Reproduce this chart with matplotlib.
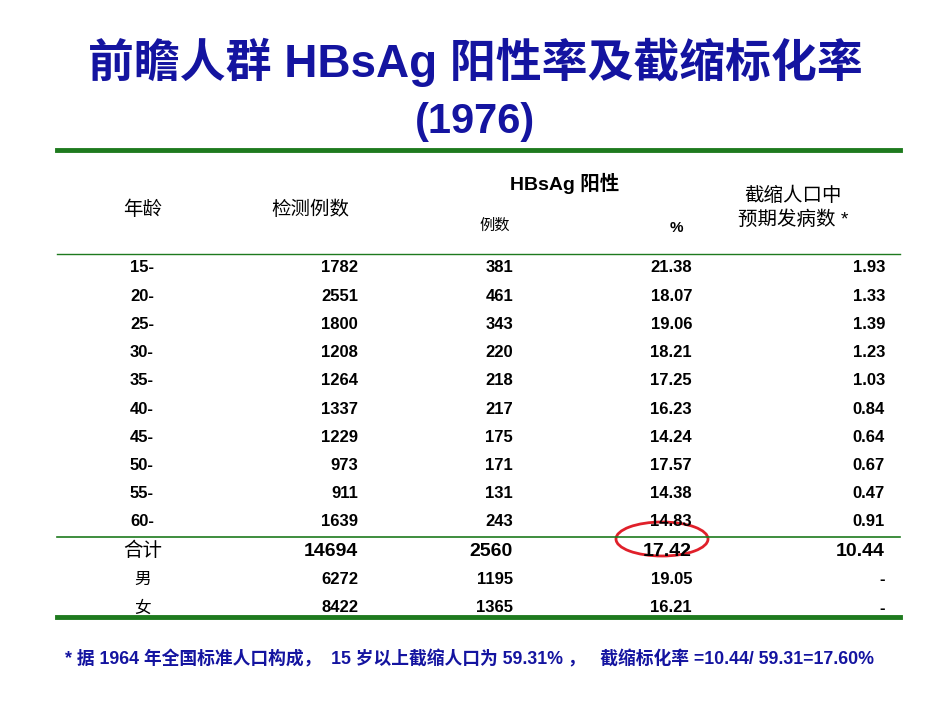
import matplotlib
matplotlib.use('Agg')
import matplotlib.pyplot as plt
from matplotlib.patches import Ellipse

plt.rcParams['font.family'] = ['Liberation Sans', 'Noto Sans CJK SC', 'DejaVu Sans']

ages = ['15-', '20-', '25-', '30-', '35-', '40-', '45-', '50-', '55-', '60-']
tested = [1782, 2551, 1800, 1208, 1264, 1337, 1229, 973, 911, 1639]
positive = [381, 461, 343, 220, 218, 217, 175, 171, 131, 243]
pct = ['21.38', '18.07', '19.06', '18.21', '17.25', '16.23', '14.24', '17.57', '14.38', '14.83']
expected = ['1.93', '1.33', '1.39', '1.23', '1.03', '0.84', '0.64', '0.67', '0.47', '0.91']
totals = [('合计', 14694, 2560, '17.42', '10.44'),
          ('男', 6272, 1195, '19.05', '-'),
          ('女', 8422, 1365, '16.21', '-')]

W, H = 950, 713
fig = plt.figure(figsize=(9.5, 7.13), dpi=100)
ax = fig.add_axes([0, 0, 1, 1])
ax.set_xlim(0, W)
ax.set_ylim(H, 0)
ax.axis('off')

blue = '#1414a0'
green = '#1e7a1e'

ax.text(475, 62, '前瞻人群 HBsAg 阳性率及截缩标化率', ha='center', va='center',
        fontsize=33, fontweight='bold', color=blue)
ax.text(475, 122, '(1976)', ha='center', va='center', fontsize=30, fontweight='bold', color=blue)

ax.plot([57, 900], [150, 150], color=green, lw=3.5)
ax.plot([57, 900], [254, 254], color=green, lw=1)
ax.plot([57, 900], [537, 537], color=green, lw=1.2)
ax.plot([57, 900], [617, 617], color=green, lw=3.5)

hk = dict(va='center', fontsize=14)
ax.text(143, 210, '年龄', ha='center', **hk)
ax.text(310, 210, '检测例数', ha='center', **hk)
ax.text(565, 183, 'HBsAg 阳性', ha='center', fontweight='bold', **hk)
ax.text(793, 196, '截缩人口中', ha='center', **hk)
ax.text(793, 220, '预期发病数 *', ha='center', **hk)
ax.text(495, 226, '例数', ha='center', va='center', fontsize=11)
ax.text(676, 228, '%', ha='center', va='center', fontsize=11, fontweight='bold')

rk = dict(va='center', fontsize=12, fontweight='bold')
for i in range(len(ages)):
    y = 268 + i * 28.2
    ax.text(130, y, ages[i], ha='left', **rk)
    ax.text(358, y, str(tested[i]), ha='right', **rk)
    ax.text(513, y, str(positive[i]), ha='right', **rk)
    ax.text(692, y, pct[i], ha='right', **rk)
    ax.text(885, y, expected[i], ha='right', **rk)

for j, (lab, t, p, pc, e) in enumerate(totals):
    y = 551 + j * 28.5
    fs = 14 if j == 0 else 12
    ax.text(143, y, lab, ha='center', va='center', fontsize=fs)
    ax.text(358, y, str(t), ha='right', va='center', fontsize=fs, fontweight='bold')
    ax.text(513, y, str(p), ha='right', va='center', fontsize=fs, fontweight='bold')
    ax.text(692, y, pc, ha='right', va='center', fontsize=fs, fontweight='bold')
    ax.text(885, y, e, ha='right', va='center', fontsize=fs, fontweight='bold')

ax.add_patch(Ellipse((662, 539), 92, 34, fill=False, edgecolor='#e0202a', lw=2))

ax.text(65, 659, '* 据 1964 年全国标准人口构成，  15 岁以上截缩人口为 59.31% ，   截缩标化率 =10.44/ 59.31=17.60%',
        ha='left', va='center', fontsize=12.8, fontweight='bold', color=blue)

fig.savefig('out.png', dpi=100)
